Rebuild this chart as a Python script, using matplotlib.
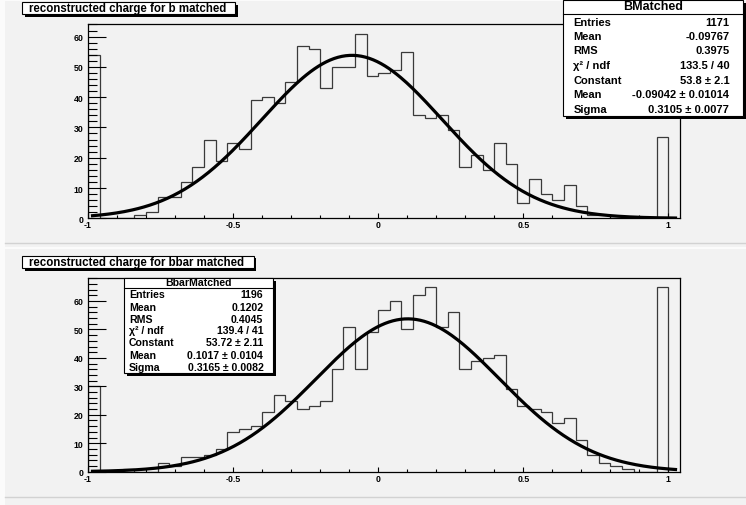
import numpy as np
import matplotlib.pyplot as plt
from matplotlib.patches import Rectangle
from matplotlib.ticker import MultipleLocator, FixedLocator, FixedFormatter

plt.rcParams['font.family'] = ['Liberation Sans', 'DejaVu Sans']
plt.rcParams['font.weight'] = 'bold'

# ---- data (50 bins of width 0.04 from -1 to 1) ----
bin_lo, bin_hi, n_bins = -1.0, 1.0, 50

b_counts = [54, 0, 0, 0, 1, 2, 7, 7, 12, 17,
            26, 19, 25, 23, 39, 40, 38, 45, 57, 56,
            43, 50, 50, 61, 47, 48, 49, 55, 34, 33,
            34, 29, 17, 21, 16, 25, 18, 5, 13, 8,
            6, 11, 4, 1, 1, 0, 0, 0, 0, 27]

bbar_counts = [30, 0, 0, 1, 0, 0, 3, 2, 5, 5,
               6, 8, 14, 15, 16, 21, 27, 25, 22, 23,
               25, 36, 51, 36, 49, 57, 60, 50, 62, 65,
               51, 56, 36, 39, 40, 41, 29, 23, 22, 21,
               17, 19, 11, 6, 3, 2, 1, 0, 0, 65]

# gaussian fit parameters (from the stat boxes)
b_fit = (53.8, -0.09042, 0.3105)
bbar_fit = (53.72, 0.1017, 0.3165)
fit_range = (-0.99, 1.03)

b_title = "reconstructed charge for b matched"
bbar_title = "reconstructed charge for bbar matched"

b_stats_name = "BMatched"
b_stats_rows = [("Entries", "1171"), ("Mean", "-0.09767"), ("RMS", "0.3975"),
                ("\u03c7\u00b2 / ndf", "133.5 / 40"), ("Constant", "53.8 \u00b1 2.1"),
                ("Mean", "-0.09042 \u00b1 0.01014"), ("Sigma", "0.3105 \u00b1 0.0077")]

bbar_stats_name = "BbarMatched"
bbar_stats_rows = [("Entries", "1196"), ("Mean", "0.1202"), ("RMS", "0.4045"),
                   ("\u03c7\u00b2 / ndf", "139.4 / 41"), ("Constant", "53.72 \u00b1 2.11"),
                   ("Mean", "0.1017 \u00b1 0.0104"), ("Sigma", "0.3165 \u00b1 0.0082")]

xtick_vals = [-1, -0.5, 0, 0.5, 1]
xtick_labels = ["-1", "-0.5", "0", "0.5", "1"]
ytick_vals = [0, 10, 20, 30, 40, 50, 60]

W, H = 746, 506


def gauss(x, c, m, s):
    return c * np.exp(-0.5 * ((x - m) / s) ** 2)


def frame(left, top, right, bottom):
    # pixel box -> figure fraction
    return [left / W, 1 - bottom / H, (right - left) / W, (bottom - top) / H]


def draw_hist(ax, counts, fit, ymax):
    edges = np.linspace(bin_lo, bin_hi, n_bins + 1)
    ax.stairs(counts, edges, color='#3a3a3a', lw=0.9, baseline=0)
    xf = np.linspace(fit_range[0], fit_range[1], 300)
    ax.plot(xf, gauss(xf, *fit), color='black', lw=2.3, solid_capstyle='butt')
    ax.set_xlim(-1, 1.04)
    ax.set_ylim(0, ymax)
    ax.set_facecolor('none')
    for s in ['top', 'right', 'left', 'bottom']:
        ax.spines[s].set_linewidth(0.9)
    ax.xaxis.set_major_locator(FixedLocator(xtick_vals))
    ax.xaxis.set_major_formatter(FixedFormatter(xtick_labels))
    ax.xaxis.set_minor_locator(MultipleLocator(0.1))
    ax.yaxis.set_major_locator(FixedLocator(ytick_vals))
    ax.yaxis.set_minor_locator(MultipleLocator(2))
    ax.tick_params(axis='x', which='major', direction='in', length=3.8, width=0.8,
                   labelsize=6.3, pad=1.3)
    ax.tick_params(axis='x', which='minor', direction='in', length=2.0, width=0.8)
    ax.tick_params(axis='y', which='major', direction='in', length=12.7, width=0.8,
                   labelsize=6.3, pad=3.3)
    ax.tick_params(axis='y', which='minor', direction='in', length=6.2, width=0.8)


def title_box(ov, x0, y0, x1, y1, text):
    ov.add_patch(Rectangle((x0 + 2.5, y0 + 2.5), x1 - x0, y1 - y0, fc='black', ec='black', lw=0))
    ov.add_patch(Rectangle((x0, y0), x1 - x0, y1 - y0, fc='white', ec='black', lw=0.8))
    ov.text(x0 + 7, (y0 + y1) / 2 + 0.3, text, ha='left', va='center', fontsize=8.3)


def stats_box(ov, x0, y0, x1, y1, name, name_y, sep_y, rows, rows_y, tx0, tx1, name_fs, fs):
    ov.add_patch(Rectangle((x0 + 3, y0 + 3), x1 - x0, y1 - y0, fc='black', ec='black', lw=0))
    ov.add_patch(Rectangle((x0, y0), x1 - x0, y1 - y0, fc='white', ec='black', lw=0.8))
    ov.plot([x0, x1], [sep_y, sep_y], color='black', lw=0.8)
    ov.text((x0 + x1) / 2, name_y, name, ha='center', va='center', fontsize=name_fs)
    for (lab, val), yy in zip(rows, rows_y):
        ov.text(tx0, yy, lab, ha='left', va='center', fontsize=fs)
        ov.text(tx1, yy, val, ha='right', va='center', fontsize=fs)


fig = plt.figure(figsize=(W / 100, H / 100), dpi=100)
fig.patch.set_facecolor('#f2f2f2')

# pad borders
bg = fig.add_axes([0, 0, 1, 1], zorder=-1)
bg.set_xlim(0, W)
bg.set_ylim(H, 0)
bg.axis('off')
bg.add_patch(Rectangle((0, 0), 5, H, fc='#fbfbfb', lw=0))
bg.plot([5, W], [1, 1], color='#fbfbfb', lw=1.5)
bg.plot([5, W], [244, 244], color='#d2d2d2', lw=1.0)
bg.plot([5, W], [249, 249], color='#fbfbfb', lw=1.5)
bg.plot([5, W], [498, 498], color='#d2d2d2', lw=1.0)

ax1 = fig.add_axes(frame(88, 25.3, 680, 219.3))
draw_hist(ax1, b_counts, b_fit, 1.05 * max(b_counts))

ax2 = fig.add_axes(frame(88, 278.5, 680, 472.7))
draw_hist(ax2, bbar_counts, bbar_fit, 1.05 * max(bbar_counts))

# boxes on top
ov = fig.add_axes([0, 0, 1, 1], zorder=10)
ov.set_xlim(0, W)
ov.set_ylim(H, 0)
ov.axis('off')

title_box(ov, 22, 3, 235, 15.3, b_title)
title_box(ov, 22, 256.7, 253.5, 269, bbar_title)

stats_box(ov, 563.3, 0.5, 742.5, 117.3, b_stats_name, 7.3, 14.7, b_stats_rows,
          [23.3, 37, 51, 65.7, 80.7, 95.3, 110], 573.3, 729.3, 9, 8)
stats_box(ov, 124, 279, 272.5, 374, bbar_stats_name, 283.3, 288.5, bbar_stats_rows,
          [295, 308, 320, 331.5, 343, 356, 368], 129, 263.3, 7.6, 7.6)

fig.savefig('out.png', dpi=100, facecolor=fig.get_facecolor())
